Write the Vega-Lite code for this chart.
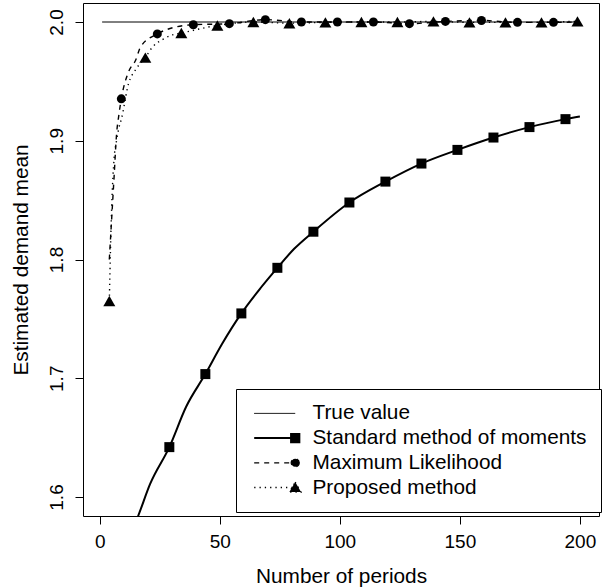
{
  "$schema": "https://vega.github.io/schema/vega-lite/v6.json",
  "width": 516,
  "height": 513,
  "autosize": {"type": "none"},
  "padding": {"left": 83, "top": 3, "right": 4, "bottom": 72},
  "background": "white",
  "config": {
    "view": {"stroke": "black", "strokeWidth": 1},
    "font": "Liberation Sans",
    "axis": {
      "domain": false, "grid": false, "tickColor": "black", "tickSize": 8, "tickWidth": 1,
      "labelColor": "black", "titleColor": "black", "labelFont": "Liberation Sans", "titleFont": "Liberation Sans",
      "labelFontSize": 19, "titleFontSize": 20.8, "titleFontWeight": "normal"
    }
  },
  "data": {"values": [
    {"period": 1, "value": 2.0, "series": "True value", "marker": 0},
    {"period": 200, "value": 2.0, "series": "True value", "marker": 0},

    {"period": 10, "value": 1.556, "series": "Standard method of moments", "marker": 0},
    {"period": 16, "value": 1.584, "series": "Standard method of moments", "marker": 0},
    {"period": 21, "value": 1.611, "series": "Standard method of moments", "marker": 0},
    {"period": 29, "value": 1.642, "series": "Standard method of moments", "marker": 1},
    {"period": 36, "value": 1.676, "series": "Standard method of moments", "marker": 0},
    {"period": 44, "value": 1.7035, "series": "Standard method of moments", "marker": 1},
    {"period": 51, "value": 1.729, "series": "Standard method of moments", "marker": 0},
    {"period": 59, "value": 1.7546, "series": "Standard method of moments", "marker": 1},
    {"period": 67, "value": 1.776, "series": "Standard method of moments", "marker": 0},
    {"period": 74, "value": 1.793, "series": "Standard method of moments", "marker": 1},
    {"period": 81, "value": 1.809, "series": "Standard method of moments", "marker": 0},
    {"period": 89, "value": 1.8234, "series": "Standard method of moments", "marker": 1},
    {"period": 104, "value": 1.848, "series": "Standard method of moments", "marker": 1},
    {"period": 119, "value": 1.8656, "series": "Standard method of moments", "marker": 1},
    {"period": 134, "value": 1.8808, "series": "Standard method of moments", "marker": 1},
    {"period": 149, "value": 1.8923, "series": "Standard method of moments", "marker": 1},
    {"period": 164, "value": 1.9027, "series": "Standard method of moments", "marker": 1},
    {"period": 179, "value": 1.9115, "series": "Standard method of moments", "marker": 1},
    {"period": 194, "value": 1.9182, "series": "Standard method of moments", "marker": 1},
    {"period": 200, "value": 1.9204, "series": "Standard method of moments", "marker": 0},

    {"period": 4, "value": 1.80, "series": "Maximum Likelihood", "marker": 0},
    {"period": 5, "value": 1.835, "series": "Maximum Likelihood", "marker": 0},
    {"period": 6, "value": 1.87, "series": "Maximum Likelihood", "marker": 0},
    {"period": 7, "value": 1.905, "series": "Maximum Likelihood", "marker": 0},
    {"period": 8, "value": 1.922, "series": "Maximum Likelihood", "marker": 0},
    {"period": 9, "value": 1.9353, "series": "Maximum Likelihood", "marker": 1},
    {"period": 12, "value": 1.958, "series": "Maximum Likelihood", "marker": 0},
    {"period": 15, "value": 1.968, "series": "Maximum Likelihood", "marker": 0},
    {"period": 17, "value": 1.979, "series": "Maximum Likelihood", "marker": 0},
    {"period": 24, "value": 1.990, "series": "Maximum Likelihood", "marker": 1},
    {"period": 31, "value": 1.9955, "series": "Maximum Likelihood", "marker": 0},
    {"period": 39, "value": 1.9977, "series": "Maximum Likelihood", "marker": 1},
    {"period": 54, "value": 1.9986, "series": "Maximum Likelihood", "marker": 1},
    {"period": 69, "value": 2.002, "series": "Maximum Likelihood", "marker": 1},
    {"period": 84, "value": 2.000, "series": "Maximum Likelihood", "marker": 1},
    {"period": 99, "value": 2.000, "series": "Maximum Likelihood", "marker": 1},
    {"period": 114, "value": 2.000, "series": "Maximum Likelihood", "marker": 1},
    {"period": 129, "value": 1.9986, "series": "Maximum Likelihood", "marker": 1},
    {"period": 144, "value": 2.0005, "series": "Maximum Likelihood", "marker": 1},
    {"period": 159, "value": 2.0013, "series": "Maximum Likelihood", "marker": 1},
    {"period": 174, "value": 1.9997, "series": "Maximum Likelihood", "marker": 1},
    {"period": 189, "value": 1.9997, "series": "Maximum Likelihood", "marker": 1},
    {"period": 200, "value": 2.000, "series": "Maximum Likelihood", "marker": 0},

    {"period": 4, "value": 1.765, "series": "Proposed method", "marker": 1},
    {"period": 5, "value": 1.845, "series": "Proposed method", "marker": 0},
    {"period": 6, "value": 1.885, "series": "Proposed method", "marker": 0},
    {"period": 7, "value": 1.900, "series": "Proposed method", "marker": 0},
    {"period": 8, "value": 1.911, "series": "Proposed method", "marker": 0},
    {"period": 9, "value": 1.918, "series": "Proposed method", "marker": 0},
    {"period": 12, "value": 1.948, "series": "Proposed method", "marker": 0},
    {"period": 15, "value": 1.960, "series": "Proposed method", "marker": 0},
    {"period": 19, "value": 1.970, "series": "Proposed method", "marker": 1},
    {"period": 22, "value": 1.979, "series": "Proposed method", "marker": 0},
    {"period": 26, "value": 1.985, "series": "Proposed method", "marker": 0},
    {"period": 30, "value": 1.989, "series": "Proposed method", "marker": 0},
    {"period": 34, "value": 1.9907, "series": "Proposed method", "marker": 1},
    {"period": 49, "value": 1.9971, "series": "Proposed method", "marker": 1},
    {"period": 64, "value": 2.000, "series": "Proposed method", "marker": 1},
    {"period": 79, "value": 1.999, "series": "Proposed method", "marker": 1},
    {"period": 94, "value": 1.9997, "series": "Proposed method", "marker": 1},
    {"period": 109, "value": 2.000, "series": "Proposed method", "marker": 1},
    {"period": 124, "value": 2.000, "series": "Proposed method", "marker": 1},
    {"period": 139, "value": 2.0005, "series": "Proposed method", "marker": 1},
    {"period": 154, "value": 1.9997, "series": "Proposed method", "marker": 1},
    {"period": 169, "value": 1.9997, "series": "Proposed method", "marker": 1},
    {"period": 184, "value": 1.9997, "series": "Proposed method", "marker": 1},
    {"period": 199, "value": 2.0005, "series": "Proposed method", "marker": 1},
    {"period": 200, "value": 2.000, "series": "Proposed method", "marker": 0}
  ]},
  "encoding": {
    "x": {
      "field": "period", "type": "quantitative",
      "scale": {"domain": [-6.96, 207.96], "nice": false, "zero": false},
      "axis": {"values": [0, 50, 100, 150, 200], "format": "d", "title": "Number of periods",
               "labelBaseline": "alphabetic", "labelPadding": 23, "titlePadding": 15}
    },
    "y": {
      "field": "value", "type": "quantitative",
      "scale": {"domain": [1.584, 2.016], "nice": false, "zero": false},
      "axis": {"values": [1.6, 1.7, 1.8, 1.9, 2.0], "format": ".1f", "title": "Estimated demand mean",
               "labelAngle": -90, "labelAlign": "center", "labelBaseline": "alphabetic", "labelPadding": 13, "titlePadding": 16}
    },
    "color": {
      "field": "series", "type": "nominal",
      "scale": {"domain": ["True value", "Standard method of moments", "Maximum Likelihood", "Proposed method"],
                "range": ["black", "black", "black", "black"]},
      "legend": {
        "orient": "none", "legendX": 153, "legendY": 386, "title": null,
        "strokeColor": "black", "fillColor": "white", "padding": 14, "rowPadding": 2.7,
        "labelFontSize": 20.8, "labelFont": "Liberation Sans", "labelColor": "black",
        "labelOffset": 41.7, "labelLimit": 500, "symbolSize": 2025, "cornerRadius": 0,
        "encode": {
          "symbols": {
            "update": {
              "shape": {"signal": "datum.value === 'True value' ? 'M-0.276,0H1.547' : datum.value === 'Standard method of moments' ? 'M-0.276,0H1.547M1.363,-0.184H1.731V0.184H1.363Z' : datum.value === 'Maximum Likelihood' ? 'M-0.276,0H1.547M1.725,0C1.725,0.0983 1.6453,0.178 1.547,0.178C1.4487,0.178 1.369,0.0983 1.369,0C1.369,-0.0983 1.4487,-0.178 1.547,-0.178C1.6453,-0.178 1.725,-0.0983 1.725,0Z' : 'M-0.276,0H1.547M1.547,-0.24L1.807,0.205L1.287,0.205Z'"},
              "fill": {"value": "black"},
              "stroke": {"value": "black"},
              "fillOpacity": {"value": 1},
              "opacity": {"value": 1},
              "size": {"value": 2025},
              "strokeWidth": {"signal": "datum.value === 'True value' ? 1 : datum.value === 'Standard method of moments' ? 2 : 1.3"},
              "strokeDash": {"signal": "datum.value === 'Maximum Likelihood' ? [5, 5] : datum.value === 'Proposed method' ? [1.3, 4] : [1, 0]"}
            }
          }
        }
      }
    }
  },
  "layer": [
    {
      "transform": [{"filter": "datum.series === 'True value'"}],
      "mark": {"type": "line", "strokeWidth": 1, "clip": true}
    },
    {
      "transform": [{"filter": "datum.series === 'Standard method of moments'"}],
      "mark": {"type": "line", "strokeWidth": 2, "interpolate": "monotone", "clip": true}
    },
    {
      "transform": [{"filter": "datum.series === 'Maximum Likelihood'"}],
      "mark": {"type": "line", "strokeWidth": 1.4, "strokeDash": [5, 5], "interpolate": "monotone", "clip": true}
    },
    {
      "transform": [{"filter": "datum.series === 'Proposed method'"}],
      "mark": {"type": "line", "strokeWidth": 1.4, "strokeDash": [1.3, 4], "interpolate": "monotone", "clip": true}
    },
    {
      "transform": [{"filter": "datum.series === 'Standard method of moments' && datum.marker === 1"}],
      "mark": {"type": "point", "shape": "square", "filled": true, "size": 100, "opacity": 1, "clip": true}
    },
    {
      "transform": [{"filter": "datum.series === 'Maximum Likelihood' && datum.marker === 1"}],
      "mark": {"type": "point", "shape": "circle", "filled": true, "size": 81, "opacity": 1, "clip": true}
    },
    {
      "transform": [{"filter": "datum.series === 'Proposed method' && datum.marker === 1"}],
      "mark": {"type": "point", "shape": "triangle-up", "filled": true, "size": 144, "opacity": 1, "clip": true}
    }
  ]
}
